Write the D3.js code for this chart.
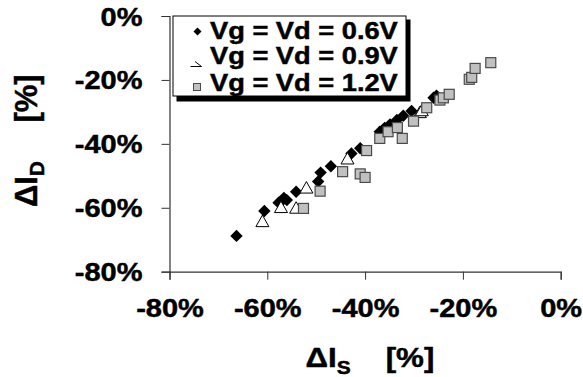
<!DOCTYPE html>
<html>
<head>
<meta charset="utf-8">
<script src="https://cdn.jsdelivr.net/npm/d3@7"></script>
<style>
  html, body { margin: 0; padding: 0; background: #fff; }
  svg { display: block; }
  text { font-family: "Liberation Sans", Arial, sans-serif; font-weight: bold; fill: #000;
         stroke: #000; stroke-width: 0.45px; }
</style>
</head>
<body>
<svg id="chart" width="583" height="377"></svg>
<script>
// Relative current change: ΔI_S (x) vs ΔI_D (y), in percent
const seriesLabels = ["Vg = Vd = 0.6V", "Vg = Vd = 0.9V", "Vg = Vd = 1.2V"];

const series06 = [
  [-66.3, -68.8], [-60.6, -61.0], [-57.7, -58.4], [-57.2, -58.1], [-56.0, -57.6],
  [-56.6, -56.9], [-54.1, -55.0], [-49.6, -51.8], [-49.1, -49.0], [-47.0, -47.0],
  [-42.8, -43.0], [-41.0, -41.4], [-37.0, -36.2], [-36.0, -35.0], [-34.9, -33.9],
  [-33.5, -32.5], [-32.2, -31.2], [-30.5, -29.7], [-26.0, -25.6], [-25.4, -24.9]
];
const series09 = [
  [-61.0, -64.1], [-57.2, -59.7], [-54.1, -59.9], [-52.0, -53.6], [-43.6, -44.5],
  [-28.8, -30.0], [-28.4, -29.4]
];
const series12 = [
  [-52.6, -60.2], [-49.2, -54.8], [-44.6, -48.7], [-41.0, -49.4], [-40.0, -50.5],
  [-39.7, -42.1], [-37.0, -38.3], [-35.3, -36.2], [-33.4, -34.9], [-32.4, -38.3],
  [-30.1, -32.9], [-27.4, -28.7], [-24.7, -26.3], [-24.0, -25.6], [-22.8, -24.5],
  [-18.7, -19.8], [-18.2, -19.2], [-17.5, -16.4], [-14.3, -14.6]
];

const xTicks = [-80, -60, -40, -20, 0];
const yTicks = [-80, -60, -40, -20, 0];

const svg = d3.select("#chart");
const SX = 1.16; // horizontal stretch of the lettering

const x = d3.scaleLinear().domain([-80, 0]).range([169.5, 560.7]);
const y = d3.scaleLinear().domain([-80, 0]).range([271.7, 16]);
const fmt = d => d + "%";

// Axes
const gx = svg.append("g").attr("transform", `translate(0,${y(-80)})`)
  .call(d3.axisBottom(x).tickValues(xTicks).tickSize(8).tickFormat(fmt));
const gy = svg.append("g").attr("transform", `translate(${x(-80)},0)`)
  .call(d3.axisLeft(y).tickValues(yTicks).tickSize(8).tickFormat(fmt));

[gx, gy].forEach(g => {
  g.select(".domain").attr("stroke", "#333").attr("stroke-width", 1.2);
  g.selectAll(".tick line").attr("stroke", "#333").attr("stroke-width", 1);
  g.selectAll("text").attr("font-size", 25).attr("font-family", null).attr("fill", "#000");
});
gx.selectAll(".tick text").attr("y", null).attr("dy", null)
  .attr("transform", `translate(0,45.5) scale(${SX},1)`);
gy.selectAll(".tick text").attr("x", null).attr("dy", "0.36em")
  .attr("transform", `translate(-27,0) scale(${SX},1)`);

// Marker shapes
const diamondPath = r => `M0,${-r}L${r},0L0,${r}L${-r},0Z`;
const trianglePath = (w, h) => `M0,${-h / 2}L${w / 2},${h / 2}L${-w / 2},${h / 2}Z`;

const plot = svg.append("g");
plot.selectAll("path.d06").data(series06).join("path")
  .attr("class", "d06")
  .attr("transform", d => `translate(${x(d[0])},${y(d[1])})`)
  .attr("d", diamondPath(6.2))
  .attr("fill", "#000");

plot.selectAll("path.d09").data(series09).join("path")
  .attr("class", "d09")
  .attr("transform", d => `translate(${x(d[0])},${y(d[1])})`)
  .attr("d", trianglePath(13, 11.5))
  .attr("fill", "#fff").attr("stroke", "#000").attr("stroke-width", 1);

plot.selectAll("rect.d12").data(series12).join("rect")
  .attr("class", "d12")
  .attr("x", d => x(d[0]) - 5).attr("y", d => y(d[1]) - 5)
  .attr("width", 10).attr("height", 10)
  .attr("fill", "#c0c0c0").attr("stroke", "#4a4a4a").attr("stroke-width", 1.2);

// Legend with drop shadow
const legend = svg.append("g");
legend.append("rect").attr("x", 176.5).attr("y", 19.5).attr("width", 234).attr("height", 82).attr("fill", "#000");
legend.append("rect").attr("x", 173).attr("y", 16).attr("width", 233).attr("height", 80)
  .attr("fill", "#fff").attr("stroke", "#000").attr("stroke-width", 1);

const rowY = [31.5, 58, 85];
legend.append("path").attr("transform", `translate(197.5,${rowY[0]})`).attr("d", diamondPath(4)).attr("fill", "#000");
legend.append("path").attr("d", `M195,${rowY[1] + 3.5}L201.5,${rowY[1] + 8.5}L190.5,${rowY[1] + 8.5}`)
  .attr("fill", "none").attr("stroke", "#000").attr("stroke-width", 1);
legend.append("rect").attr("x", 193.5).attr("y", rowY[2] - 1.5).attr("width", 7).attr("height", 7)
  .attr("fill", "#c0c0c0").attr("stroke", "#4a4a4a").attr("stroke-width", 1);

legend.selectAll("text.lg").data(seriesLabels).join("text")
  .attr("class", "lg")
  .attr("font-size", 23.5)
  .attr("transform", (d, i) => `translate(210,${[38.5, 64, 90.5][i]}) scale(${SX},1)`)
  .text(d => d);

// Axis titles
const xt = svg.append("g");
const xt1 = xt.append("text").attr("font-size", 27).attr("text-anchor", "middle")
  .attr("transform", `translate(328,367) scale(${SX},1)`);
xt1.append("tspan").text("ΔI");
xt1.append("tspan").attr("font-size", 18).attr("dy", 7).text("S");
xt.append("text").attr("font-size", 27).attr("text-anchor", "middle")
  .attr("transform", `translate(410,367) scale(${SX},1)`).text("[%]");

const yt1 = svg.append("text").attr("font-size", 31).attr("text-anchor", "middle")
  .attr("transform", `translate(36.5,184) rotate(-90)`);
yt1.append("tspan").text("ΔI");
yt1.append("tspan").attr("font-size", 21).attr("dy", 7).text("D");
svg.append("text").attr("font-size", 31).attr("text-anchor", "middle")
  .attr("transform", `translate(36.5,98.5) rotate(-90)`).text("[%]");
</script>
</body>
</html>
